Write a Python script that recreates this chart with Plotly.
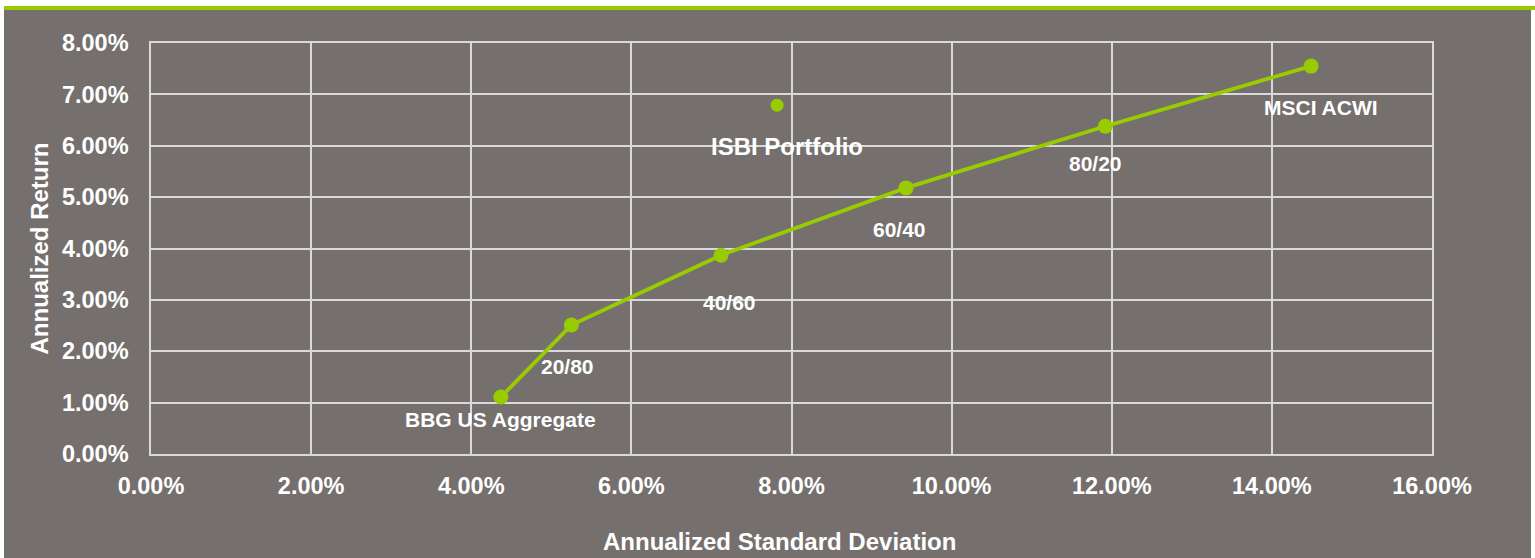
import plotly.graph_objects as go

# Data
frontier_names = ["BBG US Aggregate", "20/80", "40/60", "60/40", "80/20", "MSCI ACWI"]
frontier_sd = [4.37, 5.25, 7.12, 9.43, 11.92, 14.49]
frontier_ret = [1.11, 2.51, 3.87, 5.18, 6.38, 7.55]
portfolio_name = ["ISBI Portfolio"]
portfolio_sd = [7.82]
portfolio_ret = [6.79]
x_ticks = [0, 2, 4, 6, 8, 10, 12, 14, 16]
y_ticks = [0, 1, 2, 3, 4, 5, 6, 7, 8]
x_title = "Annualized Standard Deviation"
y_title = "Annualized Return"

GREEN = "#99cc00"
BG = "#75706e"
GRID = "#d9d9d9"
FONT = "Liberation Sans, Arial, sans-serif"
FS_TICK = 23.5
FS_TITLE = 24
FS_LABEL = 21
FS_PORT = 24

fig = go.Figure()
fig.add_trace(go.Scatter(
    x=frontier_sd, y=frontier_ret, mode="lines+markers",
    line=dict(color=GREEN, width=3.8),
    marker=dict(color=GREEN, size=15),
    hoverinfo="skip", showlegend=False))
fig.add_trace(go.Scatter(
    x=portfolio_sd, y=portfolio_ret, mode="markers",
    marker=dict(color=GREEN, size=13),
    hoverinfo="skip", showlegend=False))

# label offsets (pixels) below each point
offs = [(0, -23), (-4, -41), (8, -47), (-6, -42), (-10, -37), (10, -41)]
for n, xv, yv, (dx, dy) in zip(frontier_names, frontier_sd, frontier_ret, offs):
    fig.add_annotation(x=xv, y=yv, text="<b>%s</b>" % n, showarrow=False,
                       xshift=dx, yshift=dy,
                       font=dict(family=FONT, size=FS_LABEL, color="white"))
for n, xv, yv in zip(portfolio_name, portfolio_sd, portfolio_ret):
    fig.add_annotation(x=xv, y=yv, text="<b>%s</b>" % n, showarrow=False,
                       xshift=10, yshift=-41,
                       font=dict(family=FONT, size=FS_PORT, color="white"))

# Frame: gray panel with green top bar on white page
L, R, T, B = 151, 1432, 43, 454
W, H = 1535, 558
pw, ph = R - L, B - T
def px(xp):
    return (xp - L) / pw
def py(yp):
    return (B - yp) / ph
fig.add_shape(type="rect", xref="paper", yref="paper",
              x0=px(4), x1=px(1531), y0=py(H + 2), y1=py(10),
              fillcolor=BG, line_width=0, layer="below")
fig.add_shape(type="rect", xref="paper", yref="paper",
              x0=px(4), x1=px(W + 2), y0=py(10), y1=py(6),
              fillcolor=GREEN, line_width=0, layer="below")

# x-axis title (placed slightly left of plot centre, as in the original)
fig.add_annotation(xref="paper", yref="paper", x=px(779), y=py(541),
                   text="<b>%s</b>" % x_title, showarrow=False,
                   xanchor="center", yanchor="middle",
                   font=dict(family=FONT, size=FS_TITLE, color="white"))

axis_common = dict(
    showgrid=True, gridcolor=GRID, gridwidth=1.5,
    showline=True, linecolor=GRID, linewidth=1.5, mirror=True,
    zeroline=False, ticks="",
    tickfont=dict(family=FONT, size=FS_TICK, color="white"),
)
fig.update_xaxes(range=[0, 16], tickvals=x_ticks,
                 ticktext=["<b>%.2f%%</b>" % v for v in x_ticks],
                 ticklabelstandoff=10,
                 **axis_common)
fig.update_yaxes(range=[0, 8], tickvals=y_ticks,
                 ticktext=["<b>%.2f%%</b>" % v for v in y_ticks],
                 ticklabelstandoff=16,
                 title=dict(text="<b>%s</b>" % y_title,
                            font=dict(family=FONT, size=FS_TITLE, color="white"),
                            standoff=7),
                 **axis_common)

fig.update_layout(
    width=W, height=H,
    margin=dict(l=L, r=W - R, t=T, b=H - B, autoexpand=False),
    paper_bgcolor="white", plot_bgcolor=BG,
    showlegend=False,
)

fig.write_html("out.html", config={"displayModeBar": False},
               post_script="document.body.style.margin='0';document.body.style.overflow='hidden';")
